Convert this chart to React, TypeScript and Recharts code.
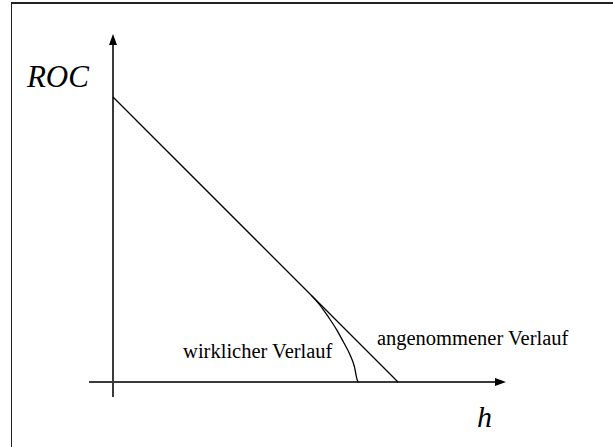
import React from "react";
import {
    LineChart,
    Line,
    XAxis,
    YAxis,
    ReferenceLine,
    ReferenceDot,
} from "recharts";

// assumed course: straight line
const hAssumed = [0, 10];
const rocAssumed = [10, 0];

// real course: bends away near the ceiling
const hReal = [6.95, 7.26, 7.55, 7.85, 8.08, 8.32, 8.47, 8.57, 8.61];
const rocReal = [3.05, 2.7, 2.29, 1.83, 1.41, 0.95, 0.54, 0.07, 0];

// axis extents (with arrows)
const hAxisRange = [-0.84, 13.79];
const rocAxisRange = [-0.53, 12.21];

const chartData = [
    ...hAssumed.map((h, i) => ({ h, assumed: rocAssumed[i] as number | null, real: null as number | null })),
    ...hReal.map((h, i) => ({ h, assumed: null as number | null, real: rocReal[i] as number | null })),
].sort((a, b) => a.h - b.h);

const SERIF = '"Liberation Serif", "Times New Roman", serif';

const labels = [
    { text: "ROC", h: -3.02, roc: 10.35, size: 31, italic: true },
    { text: "h", h: 12.77, roc: -1.58, size: 30, italic: true },
    { text: "wirklicher Verlauf", h: 2.46, roc: 0.84, size: 20.5, italic: false },
    { text: "angenommener Verlauf", h: 9.26, roc: 1.3, size: 20.5, italic: false },
];

function ArrowLine(props: any) {
    const { x1, y1, x2, y2 } = props;
    const a = Math.atan2(y2 - y1, x2 - x1);
    const len = 11;
    const half = 4;
    const bx = x2 - len * Math.cos(a);
    const by = y2 - len * Math.sin(a);
    const p1 = `${bx + half * Math.sin(a)},${by - half * Math.cos(a)}`;
    const p2 = `${bx - half * Math.sin(a)},${by + half * Math.cos(a)}`;
    return (
        <g>
            <line x1={x1} y1={y1} x2={bx} y2={by} stroke="#3a3a3a" strokeWidth={2} />
            <polygon points={`${x2},${y2} ${p1} ${p2}`} fill="#000" />
        </g>
    );
}

const textShape = (text: string, size: number, italic: boolean) => (p: any) => (
    <text
        x={p.cx}
        y={p.cy}
        fontFamily={SERIF}
        fontSize={size}
        fontStyle={italic ? "italic" : "normal"}
        fill="#000"
    >
        {text}
    </text>
);

export default function App() {
    return (
        <div
            style={{
                position: "absolute",
                left: 0,
                top: 0,
                width: 613,
                height: 447,
                overflow: "hidden",
                background: "#fff",
            }}
        >
            <div
                style={{
                    position: "absolute",
                    left: 11,
                    top: 2,
                    width: 700,
                    height: 600,
                    borderLeft: "1.5px solid #222",
                    borderTop: "2px solid #222",
                }}
            />
            <LineChart
                width={613}
                height={447}
                data={chartData}
                margin={{ top: 0, right: 0, bottom: 0, left: 0 }}
                style={{ position: "absolute", left: 0, top: 0 }}
            >
                <XAxis type="number" dataKey="h" domain={[-3.965, 17.544]} allowDataOverflow hide />
                <YAxis type="number" domain={[-2.281, 13.404]} allowDataOverflow hide />
                <ReferenceLine
                    segment={[
                        { x: hAxisRange[0], y: 0 },
                        { x: hAxisRange[1], y: 0 },
                    ]}
                    ifOverflow="visible"
                    shape={ArrowLine}
                />
                <ReferenceLine
                    segment={[
                        { x: 0, y: rocAxisRange[0] },
                        { x: 0, y: rocAxisRange[1] },
                    ]}
                    ifOverflow="visible"
                    shape={ArrowLine}
                />
                <Line
                    dataKey="assumed"
                    type="linear"
                    stroke="#000"
                    strokeWidth={1.3}
                    dot={false}
                    activeDot={false}
                    connectNulls
                    isAnimationActive={false}
                />
                <Line
                    dataKey="real"
                    type="monotone"
                    stroke="#000"
                    strokeWidth={1.3}
                    dot={false}
                    activeDot={false}
                    connectNulls
                    isAnimationActive={false}
                />
                {labels.map((l) => (
                    <ReferenceDot
                        key={l.text}
                        x={l.h}
                        y={l.roc}
                        r={0}
                        ifOverflow="visible"
                        shape={textShape(l.text, l.size, l.italic)}
                    />
                ))}
            </LineChart>
        </div>
    );
}
